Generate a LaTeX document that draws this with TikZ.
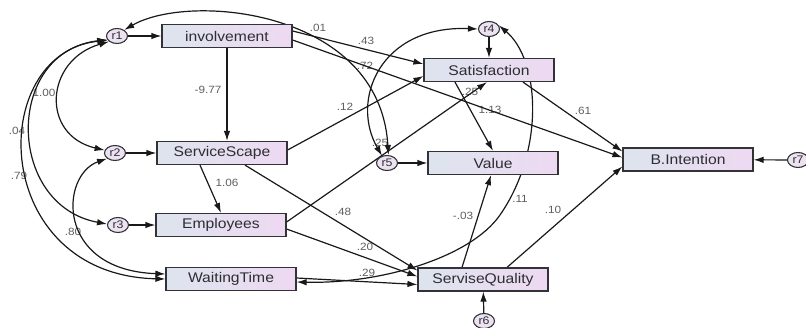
\documentclass[tikz,border=0pt]{standalone}
\usepackage{fontspec}
\setmainfont{Liberation Sans}
\newfontfamily\bxfont{Liberation Sans}[FakeStretch=1.12]
\usetikzlibrary{shapes.geometric,arrows.meta,backgrounds}
\definecolor{boxL}{RGB}{221,228,238}
\definecolor{boxR}{RGB}{238,217,242}
\definecolor{resfill}{RGB}{236,226,242}
\definecolor{boxline}{RGB}{50,50,55}
\definecolor{ln}{RGB}{25,25,25}
\definecolor{txt}{RGB}{45,45,50}
\definecolor{lblc}{RGB}{95,95,95}
\begin{document}
\begin{tikzpicture}[x=1pt,y=-1pt,
  varbox/.style={draw=boxline, line width=1.2pt, left color=boxL, right color=boxR,
    minimum width=130pt, minimum height=23pt, inner sep=0pt,
    font=\bxfont\fontsize{14}{14}\selectfont, text=txt},
  resid/.style={ellipse, draw=boxline, line width=1.1pt, fill=resfill,
    minimum width=21pt, minimum height=15pt, inner sep=0pt,
    font=\bxfont\fontsize{11}{11}\selectfont, text=txt},
  reg/.style={draw=ln, line width=1.2pt, -{Latex[length=10pt,width=6.5pt]}},
  cov/.style={draw=ln, line width=1.2pt, {Latex[length=10pt,width=6.5pt]}-{Latex[length=10pt,width=6.5pt]}},
  lbl/.style={font=\bxfont\fontsize{10.5}{10.5}\selectfont, text=lblc, inner sep=0pt}
]
\useasboundingbox (0,0) rectangle (806,327);
\clip (0,0) rectangle (806,327);

% variables
\node[resid] (r1) at (117,36) {r1};
\node[varbox] (inv) at (227,36) {involvement};
\node[resid] (r2) at (115,153) {r2};
\node[varbox] (ss) at (222,153) {ServiceScape};
\node[resid] (r3) at (118,225) {r3};
\node[varbox] (emp) at (221,225) {Employees};
\node[varbox] (wt) at (231,279) {WaitingTime};
\node[resid] (r4) at (489,29) {r4};
\node[varbox] (sat) at (489,70) {Satisfaction};
\node[resid] (r5) at (387,163) {r5};
\node[varbox] (val) at (493,163) {Value};
\node[varbox] (sq) at (483,279.5) {ServiseQuality};
\node[resid] (r6) at (484,321) {r6};
\node[varbox] (bi) at (688,159.5) {B.Intention};
\node[resid] (r7) at (798,160) {r7};

\begin{scope}[on background layer]
% labels
\node[lbl] (l1) at (208,90) {-9.77};
\node[lbl] (l2) at (227,183) {1.06};
\node[lbl] (l3) at (318,28) {.01};
\node[lbl] (l4) at (366,41) {.43};
\node[lbl] (l5) at (365,66) {.72};
\node[lbl] (l6) at (345,107) {.12};
\node[lbl] (l7) at (470,92) {.25};
\node[lbl] (l8) at (490,110) {1.13};
\node[lbl] (l9) at (583,111) {.61};
\node[lbl] (l10) at (380,143) {.25};
\node[lbl] (l11) at (343,212) {.48};
\node[lbl] (l12) at (365,247) {.20};
\node[lbl] (l13) at (367,273) {.29};
\node[lbl] (l14) at (463,216) {-.03};
\node[lbl] (l15) at (520,199) {.11};
\node[lbl] (l16) at (553,210) {.10};
\node[lbl] (l17) at (44,93) {1.00};
\node[lbl] (l18) at (17,131) {.04};
\node[lbl] (l19) at (19,176) {.79};
\node[lbl] (l20) at (73,232) {.80};

% residual paths
\draw[reg] (r1) -- (inv);
\draw[reg] (r2) -- (ss);
\draw[reg] (r3) -- (emp);
\draw[reg] (r4) -- (sat);
\draw[reg] (r5) -- (val);
\draw[reg] (r6) -- (sq);
\draw[reg] (r7) -- (bi);

% structural paths
\draw[reg] (inv.south) -- (inv.south |- ss.north);
\draw[reg] ([xshift=-22pt]ss.south) -- (emp.north);
\draw[reg] ([xshift=23pt]ss.south) -- ([yshift=9pt]sq.west);
\draw[reg] ([yshift=3pt]ss.east) -- ([yshift=-6pt]sat.west);
\draw[reg] ([yshift=5pt]inv.east) -- ([yshift=6pt]sat.west);
\draw[reg] ([yshift=-4pt]inv.east) -- ([yshift=2pt]bi.west);
\draw[reg] ([yshift=3pt]emp.east) -- ([xshift=-2pt]sat.south);
\draw[reg] ([yshift=-4pt]emp.east) -- ([yshift=3pt]sq.west);
\draw[reg] ([yshift=1pt]wt.east) -- ([yshift=-5pt]sq.west);
\draw[reg] ([xshift=-34pt]sat.south) -- (val.north);
\draw[reg] ([xshift=34pt]sat.south) -- ([yshift=8pt]bi.west);
\draw[reg] ([xshift=-21pt]sq.north) -- ([xshift=-2pt]val.south);
\draw[reg] ([xshift=24pt]sq.north) -- ([yshift=-7pt]bi.west);

% covariances
\draw[cov] (r1.215) .. controls (45,60) and (40,135) .. (r2.165);
\draw[cov] (r1.205) .. controls (5,50) and (5,205) .. (r3.175);
\draw[cov] (r1.200) .. controls (-15,55) and (-10,275) .. (wt.west);
\draw[cov] (r2.215) .. controls (60,175) and (55,270) .. ([yshift=5pt]wt.west);
\draw[cov] (r1.40) .. controls (190,-8) and (380,10) .. (r5.80);
\draw[cov] (r4.west) .. controls (380,25) and (350,100) .. (r5.125);
\draw[cov] (r4.20) .. controls (540,60) and (545,150) .. (500,215)
   .. controls (470,258) and (380,284) .. ([yshift=-3pt]wt.east);
\end{scope}
\end{tikzpicture}
\end{document}
